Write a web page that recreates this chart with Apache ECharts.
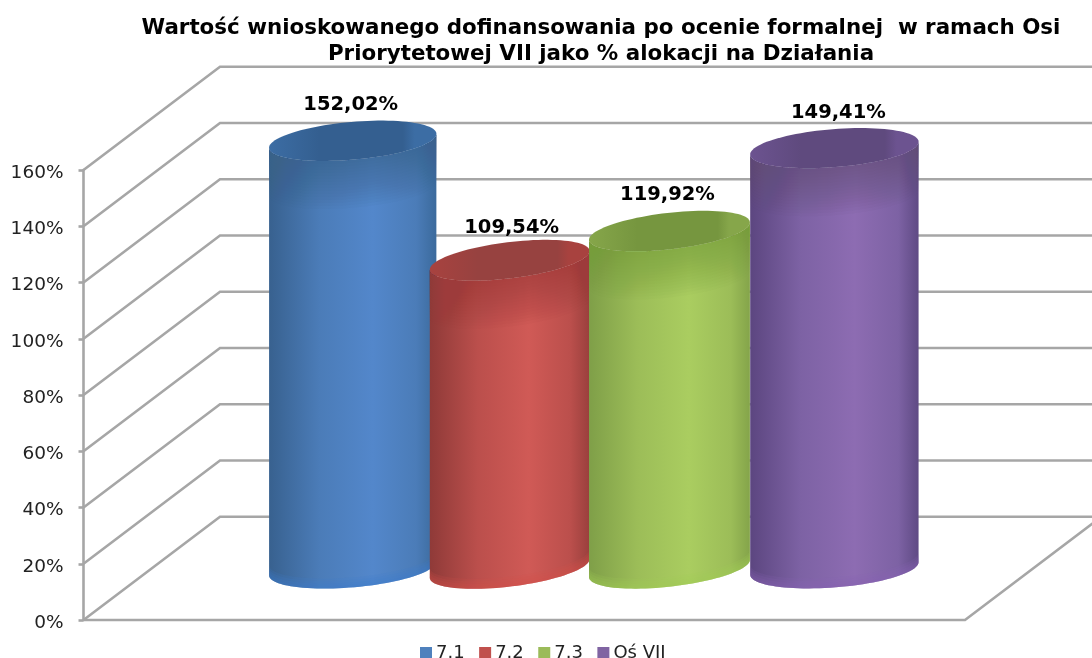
<!DOCTYPE html>
<html>
<head>
<meta charset="utf-8">
<title>Oś VII</title>
<style>
  html, body { margin: 0; padding: 0; background: #fff; }
  #chart { width: 1092px; height: 658px; }
</style>
<script src="https://cdn.jsdelivr.net/npm/echarts@6/dist/echarts.min.js"></script>
</head>
<body>
<div id="chart"></div>
<script>
// values
const seriesNames = ['7.1', '7.2', '7.3', 'Oś VII']
const seriesValues = [152.02, 109.54, 119.92, 149.41]
const tickValues = [0, 20, 40, 60, 80, 100, 120, 140, 160]

// look of each cylinder
const legendColors = ['#4f81bd', '#c0504d', '#9bbb59', '#8064a2']
const bodyColors = [
  ['#38618f', '#4b7cb8', '#5387cb', '#3b6a9c'],
  ['#8f3a38', '#bb4f4c', '#d05a56', '#9a403d'],
  ['#7f9f48', '#9cbd58', '#aacd60', '#84a44a'],
  ['#5c4680', '#7d62a4', '#8d6cb2', '#5f4a84']
]
const rimColors = ['#3c6da4', '#a8423f', '#86a64a', '#6c5390']
const lidColors = ['#345f90', '#974240', '#76963f', '#5f4a7e']
const baseColors = ['#3f7fcc', '#d64f49', '#a4cc58', '#8a66b4']

// layout of the 3d box, px
const depthX = 136.5
const depthY = -103.3
const slotOffset = [-0.1945, -0.0165, 0.1648, 0.3519]
const slotWidth = [0.1905, 0.1825, 0.1837, 0.1916]
const tiltDeg = [5, 7, 6.5, 4.5]
const ryRatio = 0.225
const labelNudge = [[-3, 0], [1, 4], [-3, 0], [3, 1]]
const lineColor = '#a6a6a6'

function ellipsePoints (cx, cy, rx, ry, tilt, from, to, n) {
  let pts = []
  for (let i = 0; i <= n; i++) {
    let a = from + (to - from) * i / n
    let x = rx * Math.cos(a)
    let y = ry * Math.sin(a)
    pts.push([
      cx + x * Math.cos(tilt) + y * Math.sin(tilt),
      cy - x * Math.sin(tilt) + y * Math.cos(tilt)
    ])
  }
  return pts
}

function renderWall (params, api) {
  let tick = api.value(0)
  let front = api.coord([0, tick])
  let band = api.size([1, 0])[0]
  let left = front[0] - band / 2
  let right = front[0] + band / 2
  let y = front[1]
  let style = { stroke: lineColor, lineWidth: 2.6, fill: null }
  let children = [{
    type: 'polyline',
    shape: { points: [[left, y], [left + depthX, y + depthY], [right + depthX, y + depthY]] },
    style: style
  }]
  if (tick === 0) {
    children.push({
      type: 'polyline',
      shape: { points: [[left, y], [right, y], [right + depthX, y + depthY]] },
      style: style
    })
  }
  return { type: 'group', children: children }
}

function renderCylinder (params, api) {
  let i = params.seriesIndex - 1
  let value = api.value(1)
  let band = api.size([1, 0])[0]
  let topPt = api.coord([0, value])
  let basePt = api.coord([0, 0])
  let cx = topPt[0] + band * slotOffset[i] + depthX / 2 - band * 0.0775
  let rx = band * slotWidth[i] / 2
  let ry = rx * ryRatio
  let topY = topPt[1] + depthY / 2
  let baseY = basePt[1] + depthY / 2
  let tilt = tiltDeg[i] * Math.PI / 180

  let bottomArc = ellipsePoints(cx, baseY, rx, ry, tilt, 0, Math.PI, 48)
  let topArc = ellipsePoints(cx, topY, rx, ry, tilt, Math.PI, 0, 48)
  let bodyFill = new echarts.graphic.LinearGradient(0, 0, 1, 0, [
    { offset: 0, color: bodyColors[i][0] },
    { offset: 0.3, color: bodyColors[i][1] },
    { offset: 0.62, color: bodyColors[i][2] },
    { offset: 0.88, color: bodyColors[i][1] },
    { offset: 1, color: bodyColors[i][3] }
  ])
  let lidFill = new echarts.graphic.LinearGradient(0, 0, 1, 0, [
    { offset: 0, color: rimColors[i] },
    { offset: 0.3, color: lidColors[i] },
    { offset: 0.8, color: lidColors[i] },
    { offset: 0.87, color: rimColors[i] },
    { offset: 1, color: rimColors[i] }
  ])

  let children = [
    { type: 'polygon', shape: { points: bottomArc.concat(topArc) }, style: { fill: bodyFill } }
  ]
  // brighter strip along the foot, stacked so it follows the curve
  for (let k = 1; k <= 4; k++) {
    children.push({
      type: 'polygon',
      shape: { points: bottomArc.concat(ellipsePoints(cx, baseY - k * 2.5, rx, ry, tilt, Math.PI, 0, 48)) },
      style: { fill: baseColors[i], opacity: 0.16 }
    })
  }
  // soft dark band under the lid
  for (let k = 1; k <= 16; k++) {
    children.push({
      type: 'polygon',
      shape: { points: ellipsePoints(cx, topY + k * 3, rx, ry, tilt, 0, Math.PI, 48).concat(topArc) },
      style: { fill: lidColors[i], opacity: 0.05 }
    })
  }
  children.push({
    type: 'polygon',
    shape: { points: ellipsePoints(cx, topY, rx, ry, tilt, 0, Math.PI * 2, 96) },
    style: { fill: lidFill }
  })
  children.push({
    type: 'text',
    z2: 50,
    style: {
      text: value.toFixed(2).replace('.', ',') + '%',
      x: cx + 1 + labelNudge[i][0],
      y: topY - 36 + labelNudge[i][1],
      align: 'center',
      verticalAlign: 'middle',
      fill: '#000',
      font: 'bold 19.5px "DejaVu Sans"'
    }
  })
  return { type: 'group', children: children }
}

let wallSeries = {
  type: 'custom',
  name: 'walls',
  silent: true,
  clip: false,
  renderItem: renderWall,
  encode: { y: 0 },
  data: tickValues.map(t => [t]),
  z: 1
}

let cylinderSeries = seriesNames.map((name, i) => ({
  type: 'custom',
  name: name,
  clip: false,
  renderItem: renderCylinder,
  encode: { x: 0, y: 1 },
  data: [[0, seriesValues[i]]],
  itemStyle: { color: legendColors[i] },
  z: 2 + i
}))

let chart = echarts.init(document.getElementById('chart'))
chart.setOption({
  animation: false,
  backgroundColor: '#fff',
  title: {
    text: 'Wartość wnioskowanego dofinansowania po ocenie formalnej  w ramach Osi\nPriorytetowej VII jako % alokacji na Działania',
    left: 596,
    top: 10,
    textAlign: 'center',
    textStyle: {
      fontFamily: 'DejaVu Sans',
      fontWeight: 'bold',
      fontSize: 21.4,
      lineHeight: 26,
      color: '#000'
    }
  },
  legend: {
    data: seriesNames,
    left: 420,
    top: 644,
    padding: 0,
    icon: 'rect',
    itemWidth: 12,
    itemHeight: 12,
    itemGap: 14.5,
    textStyle: { fontFamily: 'DejaVu Sans', fontSize: 18, color: '#222', padding: [0, 0, 0, -1] }
  },
  grid: { left: 83.5, right: 127, top: 170, bottom: 38 },
  xAxis: {
    type: 'category',
    data: [''],
    axisLine: { show: false },
    axisTick: { show: false },
    axisLabel: { show: false }
  },
  yAxis: {
    type: 'value',
    min: 0,
    max: 160,
    interval: 20,
    splitLine: { show: false },
    axisLine: { show: true, lineStyle: { color: lineColor, width: 2.6 } },
    axisTick: { show: true, length: 5, lineStyle: { color: lineColor, width: 2.6 } },
    axisLabel: {
      formatter: '{value}%',
      margin: 20,
      verticalAlign: 'top',
      lineHeight: 6,
      fontFamily: 'DejaVu Sans',
      fontSize: 18.5,
      color: '#222'
    }
  },
  series: [wallSeries].concat(cylinderSeries)
})
</script>
</body>
</html>
